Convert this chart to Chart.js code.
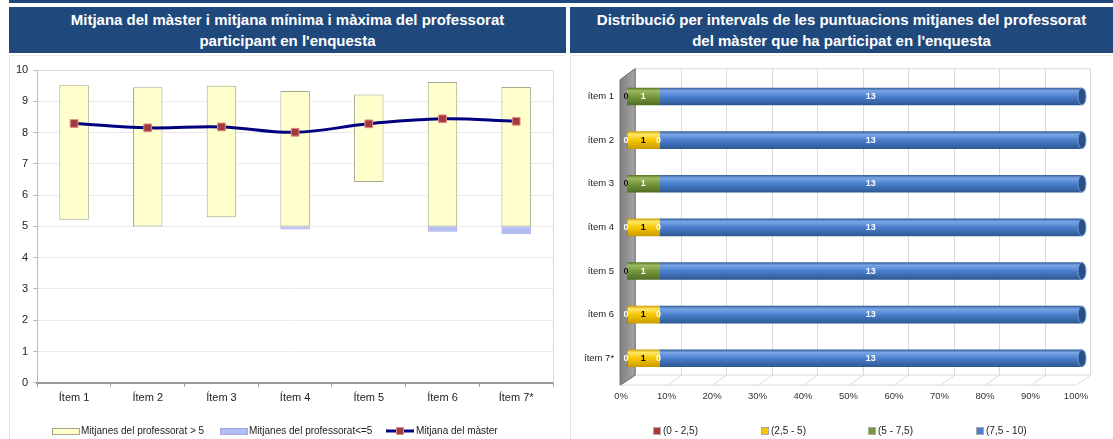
<!DOCTYPE html>
<html>
<head>
<meta charset="utf-8">
<script src="https://cdn.jsdelivr.net/npm/chart.js@4.4.1/dist/chart.umd.min.js"></script>
<style>
  body { margin: 0; background: #fff; font-family: "Liberation Sans", Arial, sans-serif; }
  .topband { position: absolute; left: 9px; top: 0; width: 1104px; height: 3px; background: #1f497d; }
  .title { position: absolute; top: 7px; height: 46px; background: #1f497d; color: #fff;
           font-weight: bold; font-size: 15px; line-height: 21px; text-align: center;
           display: flex; align-items: center; justify-content: center; }
  .panel { position: absolute; top: 55px; height: 384px; border-left: 1px solid #e4e4e4; border-top: 1px solid #ececec; box-sizing: border-box; }
</style>
</head>
<body>
<div class="topband"></div>
<div class="title" style="left:9px;width:557px;">Mitjana del màster i mitjana mínima i màxima del professorat<br>participant en l'enquesta</div>
<div class="title" style="left:570px;width:543px;">Distribució per intervals de les puntuacions mitjanes del professorat<br>del màster que ha participat en l'enquesta</div>
<div class="panel" style="left:9px;width:557px;"><canvas id="left"></canvas></div>
<div class="panel" style="left:570px;width:543px;"><canvas id="right"></canvas></div>
<script>
// left chart data
const items = ['Ítem 1', 'Ítem 2', 'Ítem 3', 'Ítem 4', 'Ítem 5', 'Ítem 6', 'Ítem 7*'];
const minProf = [5.21, 4.99, 5.29, 4.90, 6.42, 4.83, 4.75];
const maxProf = [9.53, 9.45, 9.50, 9.33, 9.22, 9.62, 9.46];
const mitjanaMaster = [8.29, 8.15, 8.18, 8.01, 8.28, 8.44, 8.36];
const yTicks = [0, 1, 2, 3, 4, 5, 6, 7, 8, 9, 10];

// right chart data
const itemsR = ['ítem 1', 'ítem 2', 'ítem 3', 'ítem 4', 'ítem 5', 'ítem 6', 'ítem 7*'];
const intervals = ['(0 - 2,5)', '(2,5 - 5)', '(5 - 7,5)', '(7,5 - 10)'];
const n0_25 = [0, 0, 0, 0, 0, 0, 0];
const n25_5 = [0, 1, 0, 1, 0, 1, 1];
const n5_75 = [1, 0, 1, 0, 1, 0, 0];
const n75_10 = [13, 13, 13, 13, 13, 13, 13];
const xTicksPct = [0, 10, 20, 30, 40, 50, 60, 70, 80, 90, 100];

const FONT = '"Liberation Sans", Arial, sans-serif';
Chart.defaults.font.family = FONT;
Chart.defaults.color = '#222';

const overFive = items.map((_, i) => [Math.max(minProf[i], 5), maxProf[i]]);
const underFive = items.map((_, i) => minProf[i] < 5 ? [minProf[i], 5] : null);

const leftFrame = {
  id: 'leftFrame',
  afterDraw(chart) {
    const { ctx, chartArea: a } = chart;
    ctx.save();
    ctx.strokeStyle = '#d9d9d9';
    ctx.lineWidth = 1;
    ctx.beginPath();
    ctx.moveTo(a.left, a.top + 0.5); ctx.lineTo(a.right + 0.5, a.top + 0.5); ctx.lineTo(a.right + 0.5, a.bottom);
    ctx.stroke();
    // legend
    const y = 375;
    ctx.font = '10px ' + FONT;
    ctx.textBaseline = 'middle';
    ctx.fillStyle = '#ffffcc'; ctx.strokeStyle = '#a6a68c';
    ctx.fillRect(42, y - 3, 27, 6); ctx.strokeRect(42.5, y - 2.5, 27, 6);
    ctx.fillStyle = '#222'; ctx.fillText('Mitjanes del professorat > 5', 71, y);
    ctx.fillStyle = '#b4bcf5'; ctx.strokeStyle = '#a0a8e0';
    ctx.fillRect(210, y - 3, 27, 6); ctx.strokeRect(210.5, y - 2.5, 27, 6);
    ctx.fillStyle = '#222'; ctx.fillText('Mitjanes del professorat<=5', 239, y);
    ctx.strokeStyle = '#000080'; ctx.lineWidth = 3;
    ctx.beginPath(); ctx.moveTo(376, y); ctx.lineTo(404, y); ctx.stroke();
    ctx.fillStyle = '#a33a3a'; ctx.strokeStyle = '#e09090'; ctx.lineWidth = 1;
    ctx.fillRect(386, y - 4, 8, 8); ctx.strokeRect(386.5, y - 3.5, 7, 7);
    ctx.fillStyle = '#222'; ctx.fillText('Mitjana del màster', 406, y);
    ctx.restore();
  }
};

new Chart(document.getElementById('left'), {
  type: 'bar',
  data: {
    labels: items,
    datasets: [
      { label: 'Mitjanes del professorat > 5', data: overFive, backgroundColor: '#ffffcc',
        borderColor: '#a6a68c', borderWidth: 1, borderSkipped: false, grouped: false,
        barPercentage: 0.4, categoryPercentage: 1, order: 2 },
      { label: 'Mitjanes del professorat<=5', data: underFive, backgroundColor: '#b4bcf5',
        borderColor: '#a0a8e0', borderWidth: 1, borderSkipped: false, grouped: false,
        barPercentage: 0.4, categoryPercentage: 1, order: 1 },
      { type: 'line', label: 'Mitjana del màster', data: mitjanaMaster, borderColor: '#000080',
        borderWidth: 3, tension: 0.4, pointStyle: 'rect', pointRadius: 5.5, pointHoverRadius: 5.5,
        pointBackgroundColor: '#a33a3a', pointBorderColor: '#e09090', pointBorderWidth: 1, order: 0 }
    ]
  },
  options: {
    responsive: true,
    maintainAspectRatio: false,
    animation: false,
    layout: { padding: { top: 14, right: 13, bottom: 29, left: 1 } },
    plugins: { legend: { display: false }, tooltip: { enabled: false } },
    scales: {
      x: {
        grid: { drawOnChartArea: false, color: '#999', tickLength: 4, offset: true },
        border: { color: '#999', width: 2 },
        ticks: { font: { size: 11 }, color: '#222', padding: 5 }
      },
      y: {
        min: 0, max: 10,
        afterBuildTicks: axis => { axis.ticks = yTicks.map(v => ({ value: v })); },
        grid: { color: '#ebebeb', drawTicks: true, tickLength: 4, tickColor: '#bbb' },
        border: { color: '#bbb' },
        ticks: { font: { size: 11 }, color: '#222', padding: 5 }
      }
    }
  },
  plugins: [leftFrame]
});

// ---- right chart
const counts = [n0_25, n25_5, n5_75, n75_10];
const totals = itemsR.map((_, j) => counts.reduce((s, c) => s + c[j], 0));
const pct = arr => arr.map((v, j) => v / totals[j] * 100);
const shades = [
  ['#d46a6a', '#b03a3a', '#7a2020'],
  ['#ffe866', '#f7c800', '#c89a00'],
  ['#9dbb62', '#77983c', '#4e6b22'],
  ['#7aa6e6', '#4a7fcf', '#2c568f']
];
const labelColors = ['#fff', '#000', '#fff', '#fff'];

function cylinder(k) {
  return function (context) {
    const chart = context.chart;
    if (!chart.chartArea || !chart.scales.y) return shades[k][1];
    const yc = chart.scales.y.getPixelForValue(context.dataIndex);
    const g = chart.ctx.createLinearGradient(0, yc - 9, 0, yc + 9);
    g.addColorStop(0, shades[k][2]);
    g.addColorStop(0.18, shades[k][0]);
    g.addColorStop(0.5, shades[k][1]);
    g.addColorStop(1, shades[k][2]);
    return g;
  };
}

const box3d = {
  id: 'box3d',
  beforeDatasetsDraw(chart) {
    const { ctx, chartArea: a } = chart;
    const xs = chart.scales.x;
    const L = a.left, R = a.right, T = a.top, B = a.bottom;
    ctx.save();
    ctx.strokeStyle = '#d9d9d9';
    ctx.lineWidth = 1;
    xTicksPct.forEach(v => {
      const px = Math.round(xs.getPixelForValue(v)) + 0.5;
      ctx.beginPath();
      ctx.moveTo(px + 8, T - 6); ctx.lineTo(px + 8, B - 5); ctx.lineTo(px - 6, B + 5);
      ctx.stroke();
    });
    ctx.beginPath();
    ctx.moveTo(L + 8, T - 6); ctx.lineTo(R + 8, T - 6);
    ctx.moveTo(L + 8, B - 5); ctx.lineTo(R + 8, B - 5);
    ctx.moveTo(L - 6, B + 5); ctx.lineTo(R - 6, B + 5);
    ctx.stroke();
    // left wall
    const g = ctx.createLinearGradient(L - 7, 0, L + 8, 0);
    g.addColorStop(0, '#7f7f7f'); g.addColorStop(1, '#a6a6a6');
    ctx.fillStyle = g;
    ctx.beginPath();
    ctx.moveTo(L - 7, T + 5); ctx.lineTo(L + 8, T - 6); ctx.lineTo(L + 8, B - 5); ctx.lineTo(L - 7, B + 5);
    ctx.closePath(); ctx.fill();
    ctx.strokeStyle = '#666'; ctx.stroke();
    ctx.restore();
  },
  afterDatasetsDraw(chart) {
    const ctx = chart.ctx;
    ctx.save();
    // end caps of the cylinders
    const last = chart.getDatasetMeta(3);
    last.data.forEach(el => {
      const h = el.height / 2;
      ctx.fillStyle = '#2a4f86';
      ctx.strokeStyle = '#6f98d6';
      ctx.beginPath(); ctx.ellipse(el.x, el.y, 4, h, 0, 0, Math.PI * 2); ctx.fill(); ctx.stroke();
    });
    ctx.font = 'bold 9px ' + FONT;
    ctx.textAlign = 'center';
    ctx.textBaseline = 'middle';
    counts.forEach((arr, k) => {
      const meta = chart.getDatasetMeta(k);
      meta.data.forEach((el, j) => {
        const cx = (el.x + el.base) / 2;
        ctx.fillStyle = labelColors[k];
        ctx.fillText(String(arr[j]), arr[j] === 0 ? cx - 1 : cx, el.y);
      });
    });
    ctx.restore();
  },
  afterDraw(chart) {
    const ctx = chart.ctx;
    const y = 375;
    const xs = [83, 191, 298, 406];
    ctx.save();
    ctx.font = '10px ' + FONT;
    ctx.textBaseline = 'middle';
    intervals.forEach((t, k) => {
      ctx.fillStyle = shades[k][1];
      ctx.fillRect(xs[k], y - 3, 6, 6);
      ctx.strokeStyle = '#aaa';
      ctx.strokeRect(xs[k] - 0.5, y - 3.5, 7, 7);
      ctx.fillStyle = '#222';
      ctx.fillText(t, xs[k] + 9, y);
    });
    ctx.restore();
  }
};

new Chart(document.getElementById('right'), {
  type: 'bar',
  data: {
    labels: itemsR,
    datasets: counts.map((arr, k) => ({
      label: intervals[k],
      data: pct(arr),
      backgroundColor: cylinder(k),
      borderWidth: 0,
      barThickness: 17
    }))
  },
  options: {
    indexAxis: 'y',
    responsive: true,
    maintainAspectRatio: false,
    animation: false,
    layout: { padding: { top: 15, right: 31, bottom: 25.5, left: 0 } },
    plugins: { legend: { display: false }, tooltip: { enabled: false } },
    scales: {
      x: {
        stacked: true, min: 0, max: 100,
        afterBuildTicks: axis => { axis.ticks = xTicksPct.map(v => ({ value: v })); },
        grid: { display: false, drawTicks: false },
        border: { display: false },
        ticks: { font: { size: 9.5 }, color: '#333', padding: 11, labelOffset: -6, callback: v => v + '%' }
      },
      y: {
        stacked: true,
        grid: { display: false, drawTicks: false },
        border: { display: false },
        ticks: { font: { size: 9.5 }, color: '#222', padding: 13 }
      }
    }
  },
  plugins: [box3d]
});
</script>
</body>
</html>
